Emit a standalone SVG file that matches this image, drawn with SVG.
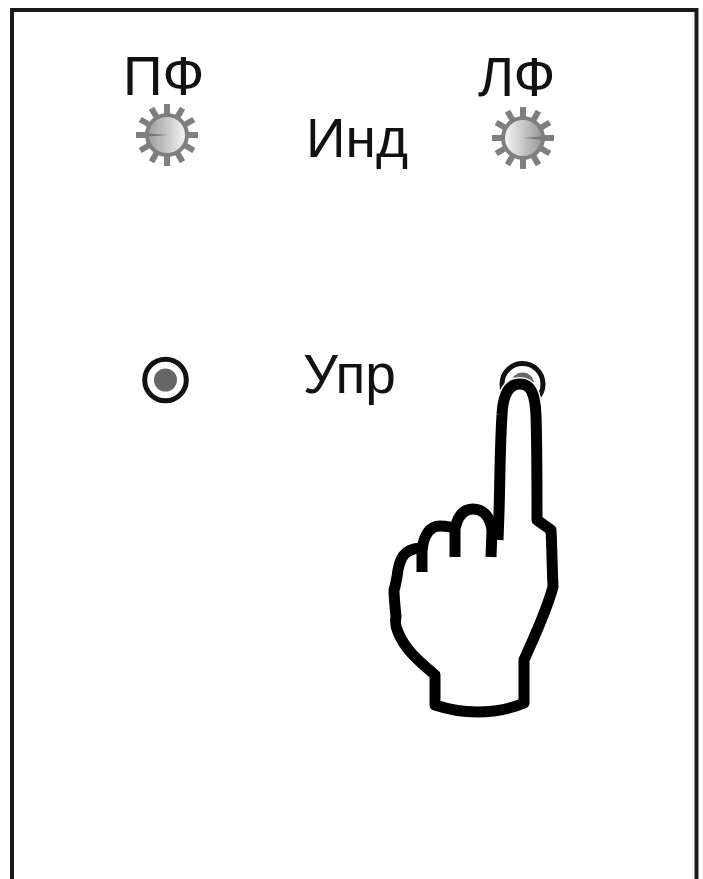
<svg xmlns="http://www.w3.org/2000/svg" width="703" height="879" viewBox="0 0 703 879">
<style>
.t{font-family:"Liberation Sans",Arial,sans-serif;font-size:55px;fill:#111}
.tooth{stroke:#7f7f7f;stroke-width:6;fill:none}
.ring{fill:#fff;stroke:#111;stroke-width:5}
.core{fill:#666}
.hfill{fill:#fff;stroke:#fff;stroke-width:14;stroke-linejoin:round}
.hand{fill:none;stroke:#000;stroke-width:11;stroke-linejoin:round;stroke-linecap:butt}
</style>
<defs>
<linearGradient id="gl" x1="0" y1="0" x2="1" y2="0"><stop offset="0" stop-color="#a0a0a0"/><stop offset="0.5" stop-color="#c8c8c8"/><stop offset="1" stop-color="#f2f2f2"/></linearGradient>
<linearGradient id="gr" x1="0" y1="0" x2="1" y2="0"><stop offset="0" stop-color="#f4f4f4"/><stop offset="0.5" stop-color="#c8c8c8"/><stop offset="1" stop-color="#999"/></linearGradient>
<g id="teeth">
<path class="tooth" d="M0-31V31M-31 0H31M-15.500-26.800L15.500 26.800M15.500-26.800L-15.500 26.800M-26.800-15.500L26.800 15.500M-26.800 15.500L26.800-15.500"/>
<circle r="22" fill="#7f7f7f"/>
</g>
</defs>
<rect width="703" height="879" fill="#fff"/>
<path id="frame" d="M12 879V10H696.500V879" fill="none" stroke="#1a1a1a" stroke-width="4"/>
<g id="label-pf"><text class="t" x="123" y="95">ПФ</text></g>
<g id="gear-pf"><g transform="translate(167 135)"><use href="#teeth"/><circle r="18" fill="url(#gl)"/><path d="M0 0L-18-1.500V1.500Z" fill="#777"/></g></g>
<g id="label-ind"><text class="t" x="306" y="157">Инд</text></g>
<g id="label-lf"><text class="t" x="478" y="96">ЛФ</text></g>
<g id="gear-lf"><g transform="translate(523 138)"><use href="#teeth"/><circle r="18" fill="url(#gr)"/><path d="M0 0L18-1.500V1.500Z" fill="#777"/></g></g>
<g id="button-left"><circle class="ring" cx="165.500" cy="380" r="20.800"/><circle class="core" cx="165.500" cy="380" r="11.500"/></g>
<g id="label-upr"><text class="t" x="303" y="393">Упр</text></g>
<g id="button-right"><circle class="ring" cx="522.500" cy="384" r="20.500"/><circle class="core" cx="522.500" cy="384" r="11.500"/></g>
<g id="hand">
<path class="hfill" d="M520 384C510 384 503 392 502 415L499 513L492 530C490 515 483 509 473 509C465 509 458 513 456 527C452 525 449 525 437 525C430 525 423 535 422 549L410 549C403 549 399 565 397 577C394 590 395 600 395 617C393 620 393 625 398 632C405 650 420 662 435 675V705C450 710 462 712 477 712C495 712 510 709 524 703V660C535 635 545 615 553 587C552 565 551 545 551 530L537 520C537 480 537 445 536 415C535 392 530 384 520 384Z"/>
<path class="hand" d="M498 540L499 513C500 480 500 445 502 415C503 392 510 384 520 384C530 384 535 392 536 415C537 445 537 480 537 520L551 530C552 548 552 565 553 587C545 615 535 635 524 660V703C510 709 495 712 477 712C462 712 450 710 435 705V675C420 662 405 650 398 632C395 625 395 622 396 617C395 605 394 598 394 590C396 585 396 580 397 577C399 558 404 549 420 548"/>
<path class="hand" d="M422 572V552C423 535 430 526 440 526C447 526 452 527 456 529M455 557V529C458 514 465 509 473 509C483 509 490 516 492 530L491 557"/>
</g>
</svg>
